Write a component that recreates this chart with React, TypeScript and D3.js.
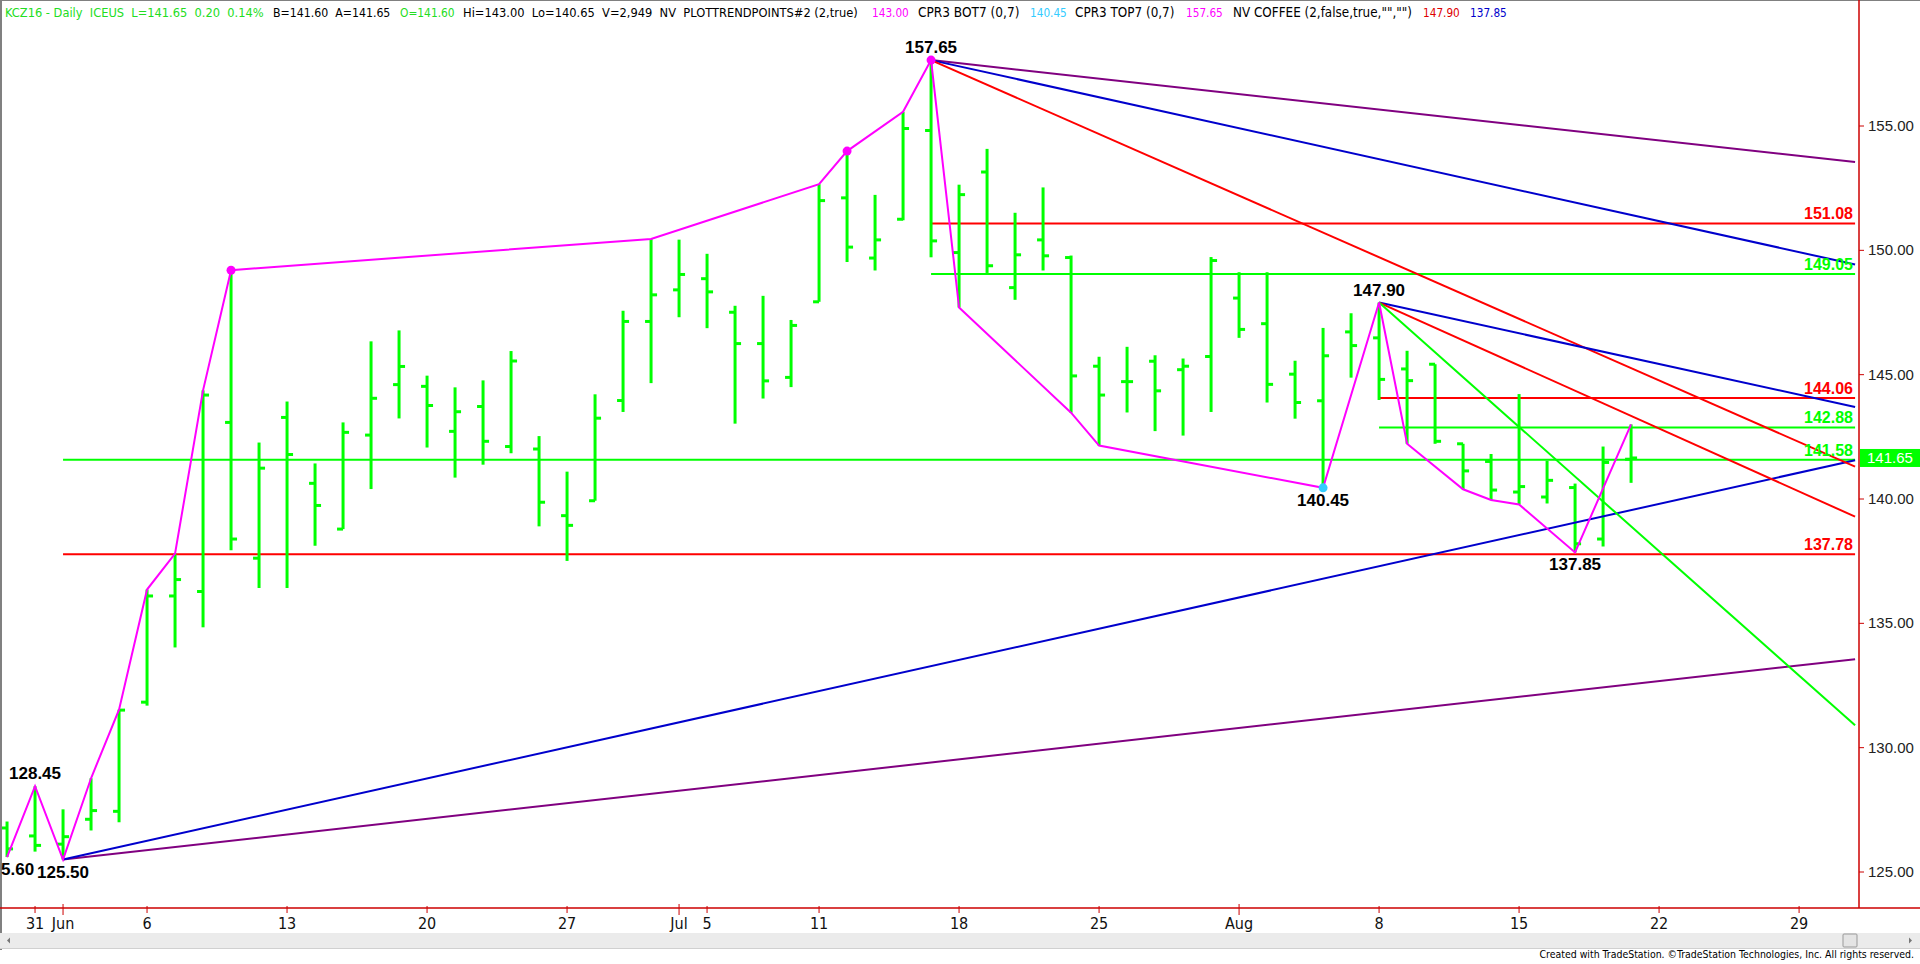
import React, { useEffect, useLayoutEffect, useRef, useState } from "react";
import * as d3 from "d3";

// ---------- calendar ----------
const holidays = ["2016-05-30", "2016-07-04"];
const calendarFirst = "2016-05-27";
const calendarLast = "2016-09-02";

// ---------- daily OHLC, KCZ16, May 27 .. Aug 19 2016 ----------
const opens = [
  126.77, 126.45, 126.12, 127.12, 127.44, 131.83, 136.1, 136.28, 143.08, 137.62,
  143.28, 140.63, 138.79, 142.57, 144.6, 144.53, 142.72, 143.72, 142.11, 142.01,
  139.33, 139.93, 143.96, 147.14, 148.41, 148.86, 147.51, 146.25, 144.89, 147.93,
  152.11, 149.69, 151.25, 154.82, 149.91, 153.15, 148.5, 150.42, 149.71, 145.34,
  144.72, 145.54, 145.2, 145.73, 148.08, 147.05, 145.02, 143.95, 146.72, 146.48,
  145.23, 145.42, 142.22, 141.51, 140.28, 140.08, 140.46, 138.39, 141.6,
];
const highs = [
  127.03, 128.45, 127.52, 128.77, 131.53, 136.36, 137.8, 144.37, 149.2, 142.27,
  143.92, 141.43, 143.08, 146.34, 146.78, 144.96, 144.49, 144.77, 145.95, 142.53,
  141.1, 144.21, 147.57, 150.46, 150.43, 149.86, 147.77, 148.17, 147.2, 152.66,
  153.99, 152.23, 155.57, 157.65, 152.64, 154.08, 151.51, 152.53, 149.79, 145.72,
  146.12, 145.78, 145.65, 149.73, 149.12, 149.12, 145.56, 146.88, 147.47, 147.9,
  145.96, 145.42, 142.22, 141.81, 144.22, 141.54, 140.62, 142.11, 143.0,
];
const lows = [
  125.6, 125.82, 125.5, 126.67, 127.0, 131.69, 134.03, 134.84, 137.94, 136.42,
  136.42, 138.12, 138.79, 140.4, 143.24, 142.07, 140.86, 141.38, 141.84, 138.9,
  137.51, 139.93, 143.5, 144.66, 147.31, 146.87, 143.03, 144.04, 144.5, 147.93,
  149.53, 149.19, 151.21, 149.72, 147.7, 149.09, 148.01, 149.19, 143.47, 142.15,
  143.48, 142.73, 142.55, 143.5, 146.48, 143.88, 143.23, 140.45, 144.88, 143.98,
  142.22, 142.22, 140.39, 139.96, 139.78, 139.82, 137.85, 138.09, 140.65,
];
const closes = [
  125.93, 126.07, 126.42, 127.47, 131.51, 136.1, 136.76, 144.18, 138.39, 141.24,
  141.79, 139.74, 142.68, 144.05, 145.33, 143.76, 143.51, 142.32, 145.55, 139.87,
  138.94, 143.25, 147.14, 148.21, 149.03, 148.33, 146.25, 144.75, 146.98, 152.0,
  150.13, 150.42, 154.9, 150.38, 152.24, 149.38, 149.82, 149.78, 144.95, 144.18,
  144.72, 144.35, 145.34, 149.59, 146.82, 144.61, 143.88, 145.76, 146.17, 144.81,
  144.76, 142.32, 141.13, 140.36, 140.5, 140.75, 138.2, 141.47, 141.65,
];

// ---------- swing zigzag (PlotTrendPoints) ----------
const pivotDates = [
  "2016-05-27", "2016-05-31", "2016-06-01", "2016-06-02", "2016-06-03", "2016-06-06",
  "2016-06-07", "2016-06-08", "2016-06-09", "2016-06-30", "2016-07-11", "2016-07-12",
  "2016-07-14", "2016-07-15", "2016-07-18", "2016-07-22", "2016-07-25", "2016-08-04",
  "2016-08-08", "2016-08-09", "2016-08-11", "2016-08-12", "2016-08-15", "2016-08-17",
  "2016-08-19",
];
const pivotPrices = [
  125.6, 128.45, 125.5, 128.77, 131.53, 136.36, 137.8, 144.37, 149.2, 150.46, 152.66,
  153.99, 155.57, 157.65, 147.7, 143.47, 142.15, 140.45, 147.9, 142.22, 140.39, 139.96,
  139.78, 137.85, 143.0,
];
const topDotDates = ["2016-06-09", "2016-07-12", "2016-07-15"];
const bottomDotDates = ["2016-08-04"];

// ---------- labelled swing points ----------
const swingLabelDates = ["2016-05-31", "2016-06-01", "2016-07-15", "2016-08-04", "2016-08-08", "2016-08-17"];
const swingLabelPrices = [128.45, 125.5, 157.65, 140.45, 147.9, 137.85];
const swingLabelSides = ["above", "below", "above", "below", "above", "below"];
// swing low of May 27 sits on the left edge: only the tail of "125.60" is visible
const edgeLabelDate = "2016-05-27";
const edgeLabelPrice = 125.6;
const edgeLabelText = "5.60";

// ---------- trendlines (extend to Aug 31) ----------
const trendStartDates = ["2016-06-01", "2016-06-01", "2016-07-15", "2016-07-15", "2016-07-15", "2016-08-08", "2016-08-08", "2016-08-08"];
const trendStartPrices = [125.5, 125.5, 157.65, 157.65, 157.65, 147.9, 147.9, 147.9];
const trendEndDates = ["2016-08-31", "2016-08-31", "2016-08-31", "2016-08-31", "2016-08-31", "2016-08-31", "2016-08-31", "2016-08-31"];
const trendEndPrices = [133.56, 141.56, 153.55, 149.43, 141.3, 143.7, 139.29, 130.9];
const trendKinds = ["outer", "inner", "outer", "inner", "fan", "inner", "fan", "fast"];

// ---------- horizontal levels ----------
const levelValues = [151.08, 149.05, 144.06, 142.88, 141.58, 137.78];
const levelStartDates = ["2016-07-15", "2016-07-15", "2016-08-08", "2016-08-08", "2016-06-01", "2016-06-01"];
const levelKinds = ["resistance", "support", "resistance", "support", "support", "resistance"];

// ---------- axis ----------
const priceTicks = [125, 130, 135, 140, 145, 150, 155];
const lastPrice = 141.65;

// ---------- header ----------
const headerTexts = [
  "KCZ16 - Daily  ICEUS  L=141.65  0.20  0.14%",
  "B=141.60  A=141.65",
  "O=141.60",
  "Hi=143.00  Lo=140.65  V=2,949  NV  PLOTTRENDPOINTS#2 (2,true)",
  "143.00",
  "CPR3 BOT7 (0,7)",
  "140.45",
  "CPR3 TOP7 (0,7)",
  "157.65",
  "NV COFFEE (2,false,true,\"\",\"\")",
  "147.90",
  "137.85",
];
const headerKinds = ["up", "plain", "up", "plain", "pivot", "plain", "low", "plain", "pivot", "plain", "red", "blue"];
const creditText = "Created with TradeStation. \u00A9TradeStation Technologies, Inc. All rights reserved.";

// ---------- layout / styles ----------
const headerSpans: [number, number][] = [
  [5, 265], [273, 391], [400, 455], [463, 860], [872, 909], [918, 1020],
  [1030, 1067], [1075, 1175], [1186, 1223], [1233, 1413], [1423, 1460], [1470, 1507],
];
const GREEN = "#00ff00";
const RED = "#ff0000";
const BLUE = "#0000cc";
const PURPLE = "#800080";
const MAGENTA = "#ff00ff";
const CYAN = "#33ccff";
const trendColor: Record<string, string> = { outer: PURPLE, inner: BLUE, fan: RED, fast: GREEN };
const levelColor: Record<string, string> = { resistance: RED, support: GREEN };
const headerColor: Record<string, string> = {
  up: "#22dd22", plain: "#000000", pivot: MAGENTA, low: CYAN, red: "#dd0000", blue: "#0000cc",
};
const NARROW = '"Liberation Sans Narrow", "Arial Narrow", "DejaVu Sans Condensed", sans-serif';
const SANS = '"Liberation Sans", Arial, sans-serif';

const W = 1920;
const H = 964;
const plotLeft = 2;
const plotRight = 1859;
const plotBottom = 908;

// text whose font size is adjusted so its natural width fills `width`
function FitText(props: {
  x: number; y: number; width: number; base: number; fill: string; anchor?: string; children: string;
}) {
  const ref = useRef<SVGTextElement>(null);
  const [size, setSize] = useState(props.base);
  useLayoutEffect(() => {
    const el = ref.current;
    if (!el) return;
    const len = el.getComputedTextLength();
    if (len > 0) setSize(Math.min(props.base * 1.25, (props.base * props.width) / len) * 0.995);
  }, []);
  return (
    <text
      ref={ref}
      x={props.x}
      y={props.y}
      fontFamily={NARROW}
      fontSize={size}
      fill={props.fill}
      textAnchor={props.anchor || "start"}
      style={{ whiteSpace: "pre" }}
    >
      {props.children}
    </text>
  );
}

export default function App() {
  useEffect(() => {
    document.body.style.margin = "0";
    document.body.style.overflow = "hidden";
  }, []);

  const parse = d3.timeParse("%Y-%m-%d");
  const fmt = d3.timeFormat("%Y-%m-%d");
  const tradingDays = d3
    .timeDay.range(parse(calendarFirst)!, d3.timeDay.offset(parse(calendarLast)!, 1))
    .filter((d) => d.getDay() !== 0 && d.getDay() !== 6 && !holidays.includes(fmt(d)));
  const dayKeys = tradingDays.map(fmt);
  const idx = (k: string) => dayKeys.indexOf(k);

  const x = d3.scaleLinear().domain([-0.18, 66.14]).range([plotLeft, plotRight]);
  const y = d3.scaleLinear().domain([125, 155]).range([872, 126]);
  const X = (k: string) => x(idx(k));

  // x-axis ticks: first trading day of a month -> month name, of a week -> day number
  const monthFmt = d3.timeFormat("%b");
  const xTicks: { i: number; label: string; month: boolean }[] = [];
  for (let k = 1; k < tradingDays.length; k++) {
    const d = tradingDays[k];
    const p = tradingDays[k - 1];
    if (d.getMonth() !== p.getMonth()) xTicks.push({ i: k, label: monthFmt(d), month: true });
    else if (+d3.timeMonday.floor(d) !== +d3.timeMonday.floor(p))
      xTicks.push({ i: k, label: String(d.getDate()), month: false });
  }
  const visibleTicks = xTicks.filter((t) => x(t.i) < plotRight - 10);

  const zig = d3
    .line<number>()
    .x((_, j) => X(pivotDates[j]))
    .y((p) => y(p))(pivotPrices);

  const priceOf = (k: string) => pivotPrices[pivotDates.indexOf(k)];
  const f2 = d3.format(".2f");

  return (
    <svg width={W} height={H} style={{ position: "absolute", left: 0, top: 0, background: "#fff" }}>
      <defs>
        <clipPath id="plot">
          <rect x={plotLeft} y={22} width={plotRight - plotLeft} height={plotBottom - 22} />
        </clipPath>
      </defs>
      <rect x={0} y={0} width={W} height={H} fill="#ffffff" />

      {/* frame */}
      <line x1={0} x2={W} y1={0.5} y2={0.5} stroke="#808080" strokeWidth={1} />
      <line x1={1} x2={1} y1={0} y2={950} stroke="#808080" strokeWidth={2} />

      {/* header */}
      {headerTexts.map((t, j) => (
        <FitText
          key={"h" + j}
          x={headerSpans[j][0]}
          y={17}
          width={headerSpans[j][1] - headerSpans[j][0]}
          base={14}
          fill={headerColor[headerKinds[j]]}
        >
          {t}
        </FitText>
      ))}

      <g clipPath="url(#plot)">
        {/* horizontal levels */}
        {levelValues.map((v, j) => (
          <line
            key={"lv" + j}
            x1={X(levelStartDates[j])}
            x2={X("2016-08-31")}
            y1={y(v)}
            y2={y(v)}
            stroke={levelColor[levelKinds[j]]}
            strokeWidth={2}
          />
        ))}

        {/* bars */}
        {opens.map((o, j) => {
          const cx = x(j);
          return (
            <g key={"b" + j} stroke={GREEN} strokeWidth={3}>
              <line x1={cx} x2={cx} y1={y(highs[j])} y2={y(lows[j])} />
              <line x1={cx - 6} x2={cx} y1={y(o)} y2={y(o)} />
              <line x1={cx} x2={cx + 6} y1={y(closes[j])} y2={y(closes[j])} />
            </g>
          );
        })}

        {/* trendlines */}
        {trendStartDates.map((s, j) => (
          <line
            key={"tl" + j}
            x1={X(s)}
            y1={y(trendStartPrices[j])}
            x2={X(trendEndDates[j])}
            y2={y(trendEndPrices[j])}
            stroke={trendColor[trendKinds[j]]}
            strokeWidth={2}
          />
        ))}

        {/* zigzag */}
        <path d={zig!} fill="none" stroke={MAGENTA} strokeWidth={2} />
        {topDotDates.map((k) => (
          <circle key={k} cx={X(k)} cy={y(priceOf(k))} r={4.5} fill={MAGENTA} />
        ))}
        {bottomDotDates.map((k) => (
          <circle key={k} cx={X(k)} cy={y(priceOf(k))} r={4.5} fill={CYAN} />
        ))}

        {/* level labels */}
        {levelValues.map((v, j) => (
          <text
            key={"ll" + j}
            x={plotRight - 6}
            y={y(v) - 4}
            textAnchor="end"
            fontFamily={SANS}
            fontWeight="bold"
            fontSize={16}
            fill={levelColor[levelKinds[j]]}
          >
            {f2(v)}
          </text>
        ))}
      </g>

      {/* swing labels */}
      {swingLabelDates.map((k, j) => (
        <text
          key={"sl" + j}
          x={X(k)}
          y={y(swingLabelPrices[j]) + (swingLabelSides[j] === "above" ? -7 : 18)}
          textAnchor="middle"
          fontFamily={SANS}
          fontWeight="bold"
          fontSize={17}
          fill="#000"
        >
          {f2(swingLabelPrices[j])}
        </text>
      ))}
      <text
        x={Math.max(0, X(edgeLabelDate) - 6)}
        y={y(edgeLabelPrice) + 18}
        fontFamily={SANS}
        fontWeight="bold"
        fontSize={17}
        fill="#000"
      >
        {edgeLabelText}
      </text>

      {/* price axis */}
      <line x1={plotRight} x2={plotRight} y1={0} y2={plotBottom} stroke="#cc0000" strokeWidth={1.5} />
      {priceTicks.map((t) => (
        <g key={"pt" + t}>
          <line x1={plotRight} x2={plotRight + 5} y1={y(t)} y2={y(t)} stroke="#cc0000" strokeWidth={1} />
          <text x={plotRight + 9} y={y(t) + 5} fontFamily={SANS} fontSize={15} fill="#222">
            {f2(t)}
          </text>
        </g>
      ))}
      <rect x={plotRight + 1} y={y(lastPrice) - 9} width={W - plotRight - 1} height={18} fill={GREEN} />
      <text x={plotRight + 8} y={y(lastPrice) + 5} fontFamily={SANS} fontSize={15} fill="#ffffff">
        {f2(lastPrice)}
      </text>

      {/* time axis */}
      <line x1={0} x2={W} y1={plotBottom} y2={plotBottom} stroke="#cc0000" strokeWidth={1.5} />
      {visibleTicks.map((t) => (
        <g key={"xt" + t.i}>
          <line
            x1={x(t.i)}
            x2={x(t.i)}
            y1={plotBottom - (t.month ? 4 : 2)}
            y2={plotBottom + (t.month ? 7 : 5)}
            stroke="#cc0000"
            strokeWidth={1}
          />
          <text x={x(t.i)} y={929} textAnchor="middle" fontFamily={NARROW} fontSize={16} fill="#111">
            {t.label}
          </text>
        </g>
      ))}

      {/* scrollbar */}
      <rect x={0} y={933} width={W} height={15} fill="#ebebeb" />
      <line x1={0} x2={W} y1={948.5} y2={948.5} stroke="#d0d0d0" />
      <path d="M7,940.5 L10,937.5 L10,943.5 Z" fill="#777" />
      <path d="M1912,940.5 L1909,937.5 L1909,943.5 Z" fill="#777" />
      <rect x={1843} y={934} width={14} height={13} fill="#e4e4e4" stroke="#999" strokeWidth={1} rx={1} />

      {/* credit */}
      <FitText x={1914} y={958} width={377} base={12} fill="#000" anchor="end">
        {creditText}
      </FitText>
    </svg>
  );
}
